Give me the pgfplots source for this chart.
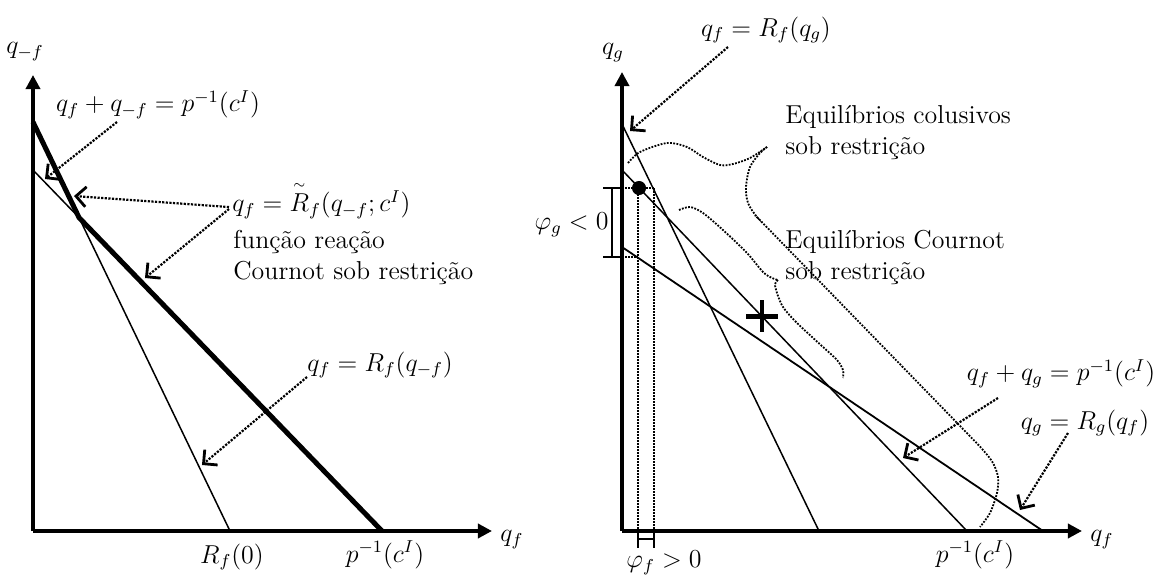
\documentclass[border=0pt]{standalone}
\usepackage{amsmath}
\usepackage{pgfplots}
\pgfplotsset{compat=1.18}
\usetikzlibrary{arrows.meta}

\pgfplotsset{
  panel/.style={x=0.5bp, y=0.5bp, xmin=0, ymin=0,
    axis lines=left,
    axis line style={line width=1.7bp, -{Triangle[length=7bp,width=7bp]}},
    ticks=none, clip=false, anchor=origin},
  thinline/.style={black, line width=0.75bp},
  pointer/.style={black, line width=1.1bp, dash pattern=on 1.1bp off 0.7bp,
    -{Straight Barb[length=5bp,width=10bp,line width=1.4bp]}},
  guide/.style={black, line width=0.9bp, dash pattern=on 0.9bp off 0.6bp},
  brace/.style={black, line width=0.9bp, dash pattern=on 0.9bp off 0.7bp, smooth, tension=0.5},
}

\begin{document}
\begin{tikzpicture}[font=\fontsize{12}{14.4}\selectfont,
                    every node/.append style={scale=1.0833}]

% ---------- left panel: constrained reaction function ----------
\begin{axis}[panel, at={(0,0)}, xmax=459, ymax=456]
  % R_f(q_{-f}) and the iso-quantity line q_f + q_{-f} = p^{-1}(c^I)
  \addplot[thinline] coordinates {(0,409) (197,0)};
  \addplot[thinline] coordinates {(0,361) (349,0)};
  % constrained reaction function (kinked)
  \addplot[black, line width=2.5bp] coordinates {(0,409) (46.1,313.3) (349,0)};

  \addplot[pointer] coordinates {(84,409) (12,352)};
  \addplot[pointer] coordinates {(196,324) (41,335)};
  \addplot[pointer] coordinates {(196,322) (112,253)};
  \addplot[pointer] coordinates {(274,154) (169,66)};

  \node at (125,426) {$q_f + q_{-f} = p^{-1}(c^{I})$};
  \node[anchor=west, inner sep=0pt] at (199,331)
    {$q_f = {\overset{\scriptscriptstyle\sim}{R}}_f(q_{-f};c^{I})$};
  \node[anchor=west, inner sep=0pt] at (200,289) {função reação};
  \node[anchor=west, inner sep=0pt] at (200,258) {Cournot sob restrição};
  \node[anchor=west, inner sep=0pt] at (274,166) {$q_f = R_f(q_{-f})$};
  \node at (199,-26) {$R_f(0)$};
  \node at (352,-24) {$p^{-1}(c^{I})$};
  \node at (479,-9) {$q_f$};
  \node at (-8,479) {$q_{-f}$};
\end{axis}

% ---------- right panel: equilibria under the constraint ----------
\begin{axis}[panel, at={(294.5bp,0)}, xmax=460, ymax=459]
  \addplot[thinline] coordinates {(0,407) (197,0)};
  \addplot[thinline] coordinates {(0,361) (345,0)};
  \addplot[thinline, line width=0.9bp] coordinates {(0,284) (421,0)};

  % dotted guides from the collusive point
  \addplot[guide] coordinates {(0,343) (32,343)};
  \addplot[guide] coordinates {(0,274) (16,274)};
  \addplot[guide] coordinates {(16,343) (16,0)};
  \addplot[guide] coordinates {(32,343) (32,0)};

  % brackets for phi_f and phi_g
  \addplot[thinline] coordinates {(16,0) (16,-17)};
  \addplot[thinline] coordinates {(32,0) (32,-17)};
  \addplot[thinline] coordinates {(16,-8) (32,-8)};
  \addplot[thinline] coordinates {(-19,343) (0,343)};
  \addplot[thinline] coordinates {(-19,274) (0,274)};
  \addplot[thinline] coordinates {(-10,274) (-10,343)};

  % collusive braces
  \addplot[brace] coordinates {(6,368) (18,379) (45,388) (65,384) (81,374) (98,366) (111,367) (128,373) (145,384)};
  \addplot[brace] coordinates {(145,384) (138,378) (128,364) (124,344) (126,328) (135,314) (150,298.5) (340,103) (361,81) (371,68) (376,54) (375,38) (368,18) (358,4)};
  % Cournot braces
  \addplot[brace] coordinates {(57,321) (68,324) (81,318) (101,301) (125,278) (141,259) (150,253) (156,251)};
  \addplot[brace] coordinates {(156,251) (153,247) (155,238) (161,224) (175,208) (201,184) (215,171) (221,161) (221,153)};

  \addplot[only marks, mark=*, mark size=3.3bp, black] coordinates {(17,343)};
  \addplot[only marks, mark=+, mark size=8bp, line width=2.2bp, black] coordinates {(140,214.6)};

  \addplot[pointer] coordinates {(106,484) (8,400)};
  \addplot[pointer] coordinates {(376,133) (281,73)};
  \addplot[pointer] coordinates {(446,98) (398,21)};

  \node at (144,501) {$q_f = R_f(q_g)$};
  \node[anchor=west, inner sep=0pt] at (163,414) {Equilíbrios colusivos};
  \node[anchor=west, inner sep=0pt] at (163,383) {sob restrição};
  \node[anchor=west, inner sep=0pt] at (163,289) {Equilíbrios Cournot};
  \node[anchor=west, inner sep=0pt] at (163,258) {sob restrição};
  \node at (439,157) {$q_f + q_g = p^{-1}(c^{I})$};
  \node at (463,108) {$q_g = R_g(q_f)$};
  \node at (353,-24) {$p^{-1}(c^{I})$};
  \node at (480,-9) {$q_f$};
  \node at (-9,478) {$q_g$};
  \node[anchor=east, inner sep=0pt] at (-13,306) {$\varphi_g < 0$};
  \node at (42,-32) {$\varphi_f > 0$};
\end{axis}

\pgfresetboundingbox
\path[use as bounding box] (-16.5bp,-23.5bp) rectangle (561bp,265.5bp);
\end{tikzpicture}
\end{document}
